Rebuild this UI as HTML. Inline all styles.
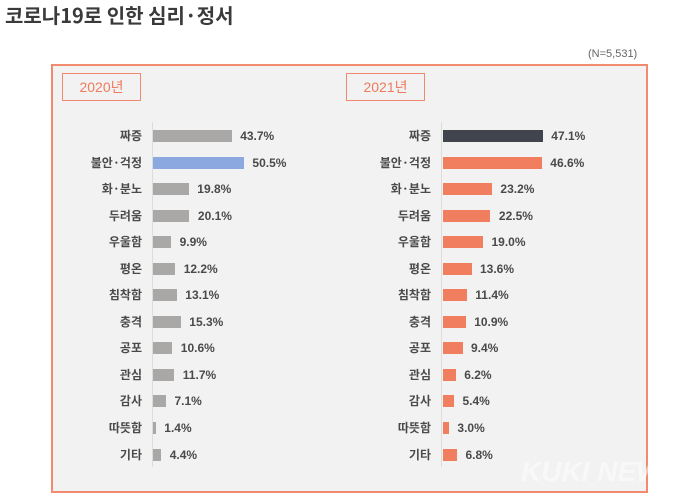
<!DOCTYPE html>
<html>
<head>
<meta charset="utf-8">
<style>
  html,body{margin:0;padding:0;}
  body{width:680px;height:497px;background:#fff;position:relative;overflow:hidden;
       font-family:"Liberation Sans","Noto Sans CJK KR",sans-serif;}
  .title{position:absolute;left:5px;top:1px;font-size:20px;font-weight:bold;color:#3a3a3a;
         font-family:"Noto Sans CJK KR",sans-serif;line-height:28px;letter-spacing:0px;}
  .n{position:absolute;left:588px;top:46px;font-size:11px;color:#666;line-height:16px;}
  .box{position:absolute;left:51px;top:64px;width:593px;height:425px;border:2px solid #f28a6e;background:#f2f2f2;}
  .yr{position:absolute;width:77px;height:26px;border:1px solid #f08a6e;color:#ee7b5d;font-size:14px;
      line-height:26px;text-align:center;font-family:"Liberation Sans","Noto Sans CJK KR",sans-serif;}
  .axis{position:absolute;top:122px;height:345px;width:1px;background:#dcdcdc;}
  .lbl{position:absolute;height:20px;line-height:20px;font-size:12px;font-weight:bold;color:#4a4a4a;
       text-align:right;width:90px;font-family:"Noto Sans CJK KR",sans-serif;white-space:nowrap;}
  .bar{position:absolute;height:12px;}
  .val{position:absolute;height:20px;line-height:20px;font-size:12px;font-weight:bold;color:#4a4a4a;white-space:nowrap;}
  .g{background:#aaa7a7;}
  .b{background:#8ba9e0;}
  .d{background:#41444d;}
  .o{background:#f17e5f;}
  .wm{position:absolute;left:521px;top:456px;font-size:28px;font-weight:bold;font-style:italic;color:#fff;opacity:0.5;
      white-space:nowrap;line-height:32px;letter-spacing:0px;}
</style>
</head>
<body>
<div class="title">코로나19로 인한 심리·정서</div>
<div class="n">(N=5,531)</div>
<div class="box"></div>
<div class="yr" style="left:62px;top:73px;">2020년</div>
<div class="yr" style="left:346px;top:73px;">2021년</div>
<div class="axis" style="left:152px;"></div>
<div class="axis" style="left:441px;"></div>

<!-- LEFT 2020 -->
<div class="lbl" style="left:52px;top:126px;">짜증</div>
<div class="bar g" style="left:153.3px;top:130px;width:78.4px;"></div>
<div class="val" style="left:240.2px;top:126px;">43.7%</div>

<div class="lbl" style="left:52px;top:152.5px;">불안·걱정</div>
<div class="bar b" style="left:153.3px;top:156.5px;width:90.6px;"></div>
<div class="val" style="left:252.4px;top:152.5px;">50.5%</div>

<div class="lbl" style="left:52px;top:179.1px;">화·분노</div>
<div class="bar g" style="left:153.3px;top:183.1px;width:35.5px;"></div>
<div class="val" style="left:197.3px;top:179.1px;">19.8%</div>

<div class="lbl" style="left:52px;top:205.6px;">두려움</div>
<div class="bar g" style="left:153.3px;top:209.6px;width:36.1px;"></div>
<div class="val" style="left:197.9px;top:205.6px;">20.1%</div>

<div class="lbl" style="left:52px;top:232.2px;">우울함</div>
<div class="bar g" style="left:153.3px;top:236.2px;width:17.8px;"></div>
<div class="val" style="left:179.6px;top:232.2px;">9.9%</div>

<div class="lbl" style="left:52px;top:258.7px;">평온</div>
<div class="bar g" style="left:153.3px;top:262.7px;width:21.9px;"></div>
<div class="val" style="left:183.7px;top:258.7px;">12.2%</div>

<div class="lbl" style="left:52px;top:285.2px;">침착함</div>
<div class="bar g" style="left:153.3px;top:289.2px;width:23.5px;"></div>
<div class="val" style="left:185.3px;top:285.2px;">13.1%</div>

<div class="lbl" style="left:52px;top:311.8px;">충격</div>
<div class="bar g" style="left:153.3px;top:315.8px;width:27.5px;"></div>
<div class="val" style="left:189.3px;top:311.8px;">15.3%</div>

<div class="lbl" style="left:52px;top:338.3px;">공포</div>
<div class="bar g" style="left:153.3px;top:342.3px;width:19.0px;"></div>
<div class="val" style="left:180.8px;top:338.3px;">10.6%</div>

<div class="lbl" style="left:52px;top:364.9px;">관심</div>
<div class="bar g" style="left:153.3px;top:368.9px;width:21.0px;"></div>
<div class="val" style="left:182.8px;top:364.9px;">11.7%</div>

<div class="lbl" style="left:52px;top:391.4px;">감사</div>
<div class="bar g" style="left:153.3px;top:395.4px;width:12.7px;"></div>
<div class="val" style="left:174.5px;top:391.4px;">7.1%</div>

<div class="lbl" style="left:52px;top:417.9px;">따뜻함</div>
<div class="bar g" style="left:153.3px;top:421.9px;width:2.5px;"></div>
<div class="val" style="left:164.3px;top:417.9px;">1.4%</div>

<div class="lbl" style="left:52px;top:444.5px;">기타</div>
<div class="bar g" style="left:153.3px;top:448.5px;width:7.9px;"></div>
<div class="val" style="left:169.7px;top:444.5px;">4.4%</div>

<!-- RIGHT 2021 -->
<div class="lbl" style="left:341px;top:126px;">짜증</div>
<div class="bar d" style="left:442.5px;top:130px;width:100.3px;"></div>
<div class="val" style="left:551.3px;top:126px;">47.1%</div>

<div class="lbl" style="left:341px;top:152.5px;">불안·걱정</div>
<div class="bar o" style="left:442.5px;top:156.5px;width:99.3px;"></div>
<div class="val" style="left:550.3px;top:152.5px;">46.6%</div>

<div class="lbl" style="left:341px;top:179.1px;">화·분노</div>
<div class="bar o" style="left:442.5px;top:183.1px;width:49.4px;"></div>
<div class="val" style="left:500.4px;top:179.1px;">23.2%</div>

<div class="lbl" style="left:341px;top:205.6px;">두려움</div>
<div class="bar o" style="left:442.5px;top:209.6px;width:47.9px;"></div>
<div class="val" style="left:498.9px;top:205.6px;">22.5%</div>

<div class="lbl" style="left:341px;top:232.2px;">우울함</div>
<div class="bar o" style="left:442.5px;top:236.2px;width:40.5px;"></div>
<div class="val" style="left:491.5px;top:232.2px;">19.0%</div>

<div class="lbl" style="left:341px;top:258.7px;">평온</div>
<div class="bar o" style="left:442.5px;top:262.7px;width:29.0px;"></div>
<div class="val" style="left:480.0px;top:258.7px;">13.6%</div>

<div class="lbl" style="left:341px;top:285.2px;">침착함</div>
<div class="bar o" style="left:442.5px;top:289.2px;width:24.3px;"></div>
<div class="val" style="left:475.3px;top:285.2px;">11.4%</div>

<div class="lbl" style="left:341px;top:311.8px;">충격</div>
<div class="bar o" style="left:442.5px;top:315.8px;width:23.2px;"></div>
<div class="val" style="left:474.2px;top:311.8px;">10.9%</div>

<div class="lbl" style="left:341px;top:338.3px;">공포</div>
<div class="bar o" style="left:442.5px;top:342.3px;width:20.0px;"></div>
<div class="val" style="left:471.0px;top:338.3px;">9.4%</div>

<div class="lbl" style="left:341px;top:364.9px;">관심</div>
<div class="bar o" style="left:442.5px;top:368.9px;width:13.2px;"></div>
<div class="val" style="left:464.2px;top:364.9px;">6.2%</div>

<div class="lbl" style="left:341px;top:391.4px;">감사</div>
<div class="bar o" style="left:442.5px;top:395.4px;width:11.5px;"></div>
<div class="val" style="left:462.5px;top:391.4px;">5.4%</div>

<div class="lbl" style="left:341px;top:417.9px;">따뜻함</div>
<div class="bar o" style="left:442.5px;top:421.9px;width:6.4px;"></div>
<div class="val" style="left:457.4px;top:417.9px;">3.0%</div>

<div class="lbl" style="left:341px;top:444.5px;">기타</div>
<div class="bar o" style="left:442.5px;top:448.5px;width:14.5px;"></div>
<div class="val" style="left:465.5px;top:444.5px;">6.8%</div>

<div class="wm">KUKI NEWS</div>
</body>
</html>
